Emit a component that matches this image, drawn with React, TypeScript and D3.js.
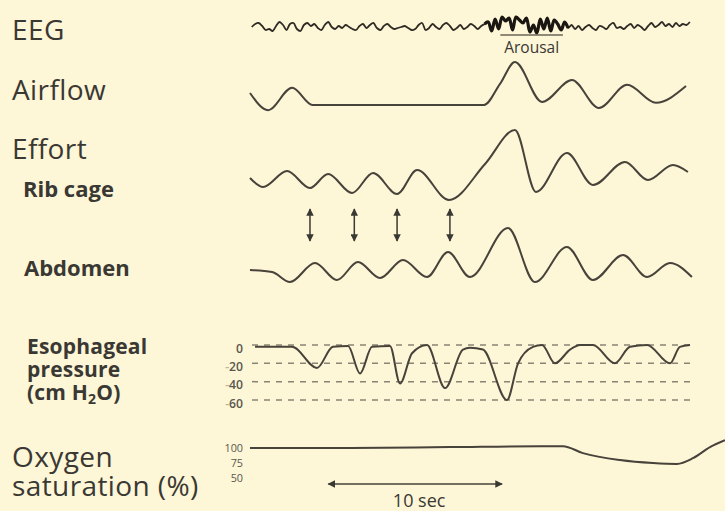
import React from "react";
import * as d3 from "d3";

// ---- data (time in seconds, amplitudes in arbitrary units) ----
const eegStart = 0.1;
const eegStep = 0.2;
const eegPre = [0, 3, 4, 1, -3, -2, -4, 1, 5, 2, -3, 3, 4, -2, -4, 2, 4, 1, 3, -1, -3, 2, 5, 0, -2, 1, -1, 2, 0, -2, -3, 1, 3, -1, 2, 4, -1, -3, 1, 3, 0, -2, -1, 0, 1, -1, -3, -2, 2, 4, -3, -1, 3, 0, -2, 2, 4, 1, -3, -1, 2, -2, 0, 3, 1, -2, 1, 3];
const eegArousal = [5, -4, 8, -2, 10, 6, 9, -3, 10, 7, 4, 9, -5, 2, -6, 8, -2, 9, -4, 7, 3, -3, 5];
const eegPost = [-1, 2, -2, 1, -3, 0, 2, -1, -3, 1, 0, -2, 2, 4, -1, 0, -2, 1, 3, -1, 2, 0, -3, 1, 4, 0, 2, 5, 1, 3, 0, 4, 1, 3, 2, 5];
const arousalBar = [14.4, 18.0];

const airflowT = [0, 1.04, 2.42, 3.6, 5.75, 9.78, 13.46, 14.38, 15.24, 16.8, 18.52, 20.07, 21.69, 23.35, 25.08];
const airflowV = [2.8, -1.2, 4.0, 0, 0, 0, 0, 4.9, 10, 0.7, 5.8, -0.7, 4.7, 0.5, 4.4];

const ribT = [0, 0.75, 2.13, 3.45, 4.49, 5.87, 7.08, 8.46, 9.61, 11.45, 13.52, 15.24, 16.45, 18.23, 19.73, 21.57, 22.89, 24.33, 25.19];
const ribV = [1.75, -0.5, 3.5, -0.75, 2.75, -2, 3, -2.25, 3.75, -3.75, 5.25, 13.75, -1.75, 8, 0, 5.75, 1.25, 5, 3.25];

const abdT = [0, 1.27, 2.3, 3.74, 5.0, 6.21, 7.48, 8.8, 10.18, 11.39, 12.65, 14.84, 16.39, 18.23, 19.73, 21.46, 22.84, 24.16, 25.42];
const abdV = [0, -0.5, -3, 1.75, -2.5, 2, -2, 2.5, -1.75, 4.5, -1.75, 10.5, -3, 5.75, -2.5, 3.75, -1.75, 1.75, -1.75];

const couplingT = [3.45, 6.0, 8.46, 11.5];

const escT = [0.29, 2.42, 3.85, 4.77, 5.64, 6.33, 7.02, 8.05, 8.63, 9.32, 10.18, 11.22, 12.25, 12.65, 13.4, 14.78, 15.42, 16.28, 16.8, 17.54, 18.41, 18.98, 19.73, 20.99, 21.86, 22.84, 24.16, 24.73, 25.31];
const escV = [-2, -2, -25, -2, -1, -31, -2, -1, -42, -9, 0, -47, -5, -3, -5, -60, -20, -2, 0, -20, -5, 0, 0, -20, -2, 0, -20, -2, 0];
const escTicks = [0, -20, -40, -60];
const escTickLabels = ["0", "20", "40", "60"];

const oxT = [0, 5.75, 11.5, 16.7, 18.0, 19.15, 21.28, 23.18, 24.56, 25.48, 26.46, 27.32];
const oxV = [100, 100, 101.5, 103, 103, 91.5, 80, 75, 73.5, 83, 101.5, 113];
const oxTicks = [100, 75, 50];

const scaleBar = [4.5, 14.5];

// ---- styles ----
const BG = "#fdf6d7";
const INK = "#3a3833";
const TRACE = "#47423a";
const FONT = "'Open Sans', 'Noto Sans', sans-serif";

export default function App() {
  const x = d3.scaleLinear().domain([0, 26]).range([250, 702]);
  const eegY = d3.scaleLinear().domain([-10, 10]).range([37, 17]);
  const airY = d3.scaleLinear().domain([0, 10]).range([105, 62]);
  const ribY = d3.scaleLinear().domain([0, 10]).range([185, 145]);
  const abdY = d3.scaleLinear().domain([0, 10]).range([270, 230]);
  const escY = d3.scaleLinear().domain([0, -60]).range([345, 400]);
  const oxY = d3.scaleLinear().domain([100, 50]).range([448, 478]);

  const eegAll = [...eegPre, ...eegArousal, ...eegPost].map((v, i) => ({ t: eegStart + i * eegStep, v }));
  const aStart = eegPre.length;
  const aEnd = eegPre.length + eegArousal.length;
  const eegAr = eegAll.slice(aStart - 1, aEnd + 1);

  const mk = (ys: d3.ScaleLinear<number, number>, curve: any) =>
    d3
      .line<{ t: number; v: number }>()
      .x((d) => x(d.t))
      .y((d) => ys(d.v))
      .curve(curve);

  const zip = (ts: number[], vs: number[]) => ts.map((t, i) => ({ t, v: vs[i] }));

  const eegLine = mk(eegY, d3.curveCatmullRom.alpha(0.5));
  const airLine = mk(airY, d3.curveMonotoneX);
  const ribLine = mk(ribY, d3.curveMonotoneX);
  const abdLine = mk(abdY, d3.curveMonotoneX);
  const escLine = mk(escY, d3.curveMonotoneX);
  const oxLine = mk(oxY, d3.curveMonotoneX);

  const bigLabel = { fontFamily: FONT, fontSize: 28, letterSpacing: 0.4, fill: INK } as const;
  const subLabel = { fontFamily: FONT, fontSize: 22, fontWeight: 700, fill: INK } as const;

  const xMin = x(0);
  const xMax = x(25.6);

  return (
    <svg width={725} height={511} style={{ position: "absolute", left: 0, top: 0 }}>
      <defs>
        <marker id="ah" viewBox="0 0 10 10" refX="9" refY="5" markerWidth="5" markerHeight="5" orient="auto-start-reverse">
          <path d="M0,0 L10,5 L0,10 z" fill={INK} />
        </marker>
      </defs>
      <rect x={0} y={0} width={725} height={511} fill={BG} />

      {/* labels */}
      <text x={12} y={40} {...bigLabel}>EEG</text>
      <text x={12} y={100} {...bigLabel}>Airflow</text>
      <text x={12} y={159} {...bigLabel}>Effort</text>
      <text x={23} y={197} {...subLabel}>Rib cage</text>
      <text x={24} y={276} {...subLabel}>Abdomen</text>
      <text x={27} y={354} {...subLabel} fontSize={21} letterSpacing={0.2}>
        <tspan x={27} y={354}>Esophageal</tspan>
        <tspan x={27} y={377}>pressure</tspan>
        <tspan x={27} y={400}>(cm H</tspan>
        <tspan fontSize={14} dy={4}>2</tspan>
        <tspan dy={-4}>O)</tspan>
      </text>
      <text x={12} y={467} {...bigLabel}>
        <tspan x={12} y={467}>Oxygen</tspan>
        <tspan x={12} y={496}>saturation (%)</tspan>
      </text>

      {/* EEG */}
      <path d={eegLine(eegAll) || ""} fill="none" stroke="#2e2a24" strokeWidth={1.8} strokeLinejoin="round" />
      <path d={eegLine(eegAr) || ""} fill="none" stroke="#1a1712" strokeWidth={3.2} strokeLinejoin="round" />
      <line x1={x(arousalBar[0])} x2={x(arousalBar[1])} y1={35} y2={35} stroke="#6a6458" strokeWidth={1.5} />
      <text x={(x(arousalBar[0]) + x(arousalBar[1])) / 2} y={53} textAnchor="middle" fontFamily={FONT} fontSize={15.5} fill={INK}>
        Arousal
      </text>

      {/* Airflow, effort */}
      <path d={airLine(zip(airflowT, airflowV)) || ""} fill="none" stroke={TRACE} strokeWidth={2} />
      <path d={ribLine(zip(ribT, ribV)) || ""} fill="none" stroke={TRACE} strokeWidth={2} />
      <path d={abdLine(zip(abdT, abdV)) || ""} fill="none" stroke={TRACE} strokeWidth={2} />
      {couplingT.map((t, i) => (
        <line key={i} x1={x(t)} x2={x(t)} y1={209} y2={241} stroke={INK} strokeWidth={1.5} markerStart="url(#ah)" markerEnd="url(#ah)" />
      ))}

      {/* Esophageal pressure */}
      {escTicks.map((v, i) => (
        <g key={i}>
          <line x1={xMin + 2} x2={xMax} y1={escY(v)} y2={escY(v)} stroke="#8a8474" strokeWidth={1.5} strokeDasharray="6 6" />
          <text x={243} y={escY(v) + 7.5} textAnchor="end" fontFamily={FONT} fontSize={12.2} fontWeight={600} fill="#5a574e">
            {v < 0 ? <tspan fill="#b9b29c">-</tspan> : null}
            {escTickLabels[i]}
          </text>
        </g>
      ))}
      <path d={escLine(zip(escT, escV)) || ""} fill="none" stroke={TRACE} strokeWidth={2} />

      {/* Oxygen */}
      {oxTicks.map((v, i) => (
        <text key={i} x={243} y={oxY(v) + 4} textAnchor="end" fontFamily={FONT} fontSize={10.8} fill="#5a574e">
          {v}
        </text>
      ))}
      <path d={oxLine(zip(oxT, oxV)) || ""} fill="none" stroke={TRACE} strokeWidth={2} />

      {/* scale bar */}
      <line x1={x(scaleBar[0])} x2={x(scaleBar[1])} y1={484} y2={484} stroke={TRACE} strokeWidth={1.5} markerStart="url(#ah)" markerEnd="url(#ah)" />
      <text x={(x(scaleBar[0]) + x(scaleBar[1])) / 2 + 4} y={507} textAnchor="middle" fontFamily={FONT} fontSize={18} fill={INK}>
        10 sec
      </text>
    </svg>
  );
}
